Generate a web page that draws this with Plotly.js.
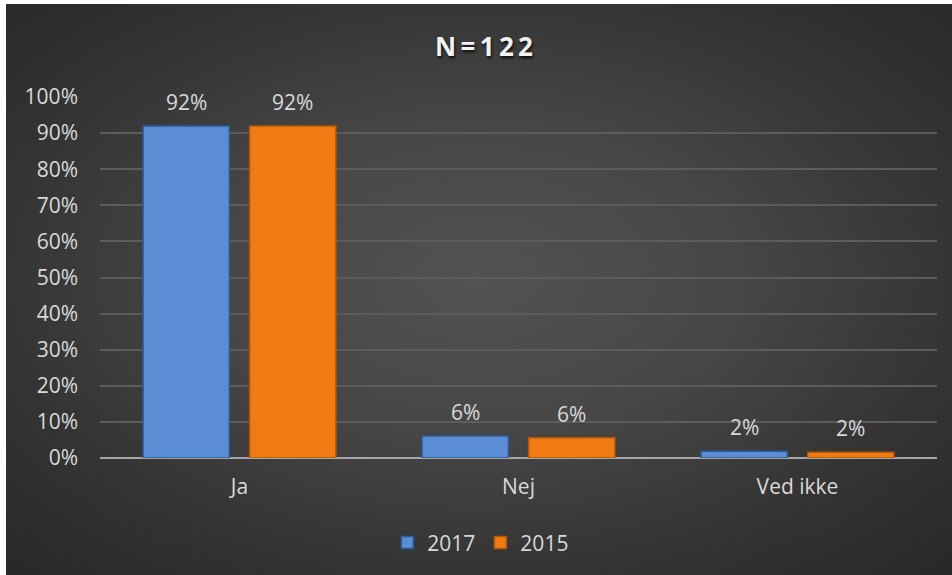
<!DOCTYPE html>
<html>
<head>
<meta charset="utf-8">
<script src="https://cdn.plot.ly/plotly-3.0.1.min.js"></script>
<style>
  html, body { margin: 0; padding: 0; background: #ffffff; width: 952px; height: 575px; overflow: hidden; }
  #bg { position: absolute; left: 6px; top: 4px; width: 946px; height: 571px;
        background: radial-gradient(ellipse 75% 75% at 50% 48%, #525252 0%, #474747 35%, #333333 70%, #262626 100%); }
  #chart { position: absolute; left: 0; top: 0; width: 952px; height: 575px; }
</style>
</head>
<body>
<div id="bg"></div>
<div id="chart"></div>
<script>
const categories = ["Ja", "Nej", "Ved ikke"];
const series2017 = [0.92, 0.061, 0.019];
const series2015 = [0.92, 0.056, 0.016];
const seriesNames = ["2017", "2015"];
const yTickVals = [0, 0.1, 0.2, 0.3, 0.4, 0.5, 0.6, 0.7, 0.8, 0.9, 1.0];
const titleText = "N\u2009=\u20091\u20092\u20092";

const font = "'Open Sans', 'DejaVu Sans', sans-serif";
const textColor = "#d9d9d9";

const traces = [
  { type: "bar", name: seriesNames[0], x: categories, y: series2017,
    marker: { color: "#5a8dd3", line: { color: "#2d5a96", width: 1.5 } }, hoverinfo: "none" },
  { type: "bar", name: seriesNames[1], x: categories, y: series2015,
    marker: { color: "#f07b12", line: { color: "#b0570a", width: 1.5 } }, hoverinfo: "none" }
];

const annotations = [];
[series2017, series2015].forEach((s, k) => {
  s.forEach((v, i) => {
    annotations.push({
      xref: "x", yref: "y", x: i + (k === 0 ? -0.19 : 0.19), y: v,
      text: Math.round(v * 100) + "%", showarrow: false,
      yanchor: "middle", yshift: 24,
      font: { family: font, size: 21, color: textColor }
    });
  });
});

const layout = {
  width: 952, height: 575,
  paper_bgcolor: "rgba(0,0,0,0)", plot_bgcolor: "rgba(0,0,0,0)",
  margin: { l: 100, r: 15, t: 97, b: 117 },
  title: { text: "<b>" + titleText + "</b>", x: 484 / 952, xanchor: "center", xref: "container",
           y: 1 - 47 / 575, yanchor: "middle", yref: "container",
           font: { family: font, size: 26, color: "#f2f2f2", shadow: "1px 2px 3px rgba(0,0,0,0.8)" } },
  barmode: "group", bargap: 0.236, bargroupgap: 0.19,
  xaxis: { type: "category", showgrid: false, zeroline: false, showline: false,
           tickfont: { family: font, size: 21, color: textColor }, ticks: "", ticklabelstandoff: 14 },
  yaxis: { range: [0, 1.0], tickvals: yTickVals, tickformat: ".0%",
           showgrid: true, gridcolor: "#5c5c5c", gridwidth: 2,
           zeroline: true, zerolinecolor: "#a6a6a6", zerolinewidth: 2,
           tickfont: { family: font, size: 21, color: textColor }, ticks: "", ticklabelstandoff: 21 },
  showlegend: true,
  legend: { orientation: "h", x: 0.455, xanchor: "center", y: -0.235, yanchor: "middle",
            font: { family: font, size: 21, color: textColor }, bgcolor: "rgba(0,0,0,0)",
            itemwidth: 30, traceorder: "normal" },
  annotations: annotations
};

Plotly.newPlot("chart", traces, layout, { displayModeBar: false, staticPlot: true });
</script>
</body>
</html>
